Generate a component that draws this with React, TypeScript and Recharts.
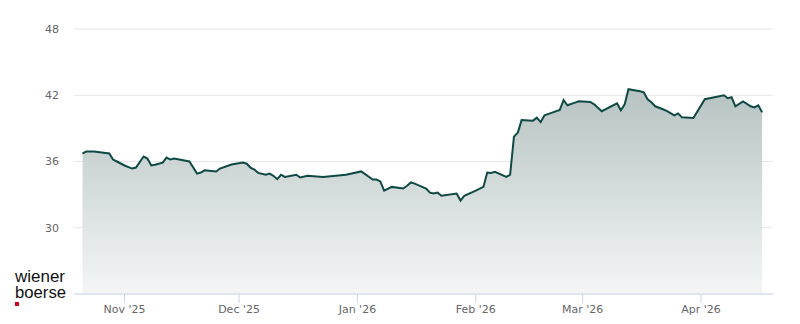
import React from "react";
import { AreaChart, Area, XAxis, YAxis, CartesianGrid } from "recharts";

const dates = [
  "2025-10-21", "2025-10-22", "2025-10-24", "2025-10-28", "2025-10-29", "2025-10-30",
  "2025-11-01", "2025-11-03", "2025-11-04", "2025-11-06", "2025-11-07", "2025-11-08",
  "2025-11-09", "2025-11-11", "2025-11-12", "2025-11-13", "2025-11-14", "2025-11-18",
  "2025-11-20", "2025-11-21", "2025-11-22", "2025-11-25", "2025-11-26", "2025-11-29",
  "2025-12-02", "2025-12-03", "2025-12-04", "2025-12-05", "2025-12-06", "2025-12-08",
  "2025-12-09", "2025-12-10", "2025-12-11", "2025-12-12", "2025-12-13", "2025-12-16",
  "2025-12-17", "2025-12-19", "2025-12-23", "2025-12-29", "2026-01-02", "2026-01-05",
  "2026-01-06", "2026-01-07", "2026-01-08", "2026-01-10", "2026-01-13", "2026-01-14",
  "2026-01-15", "2026-01-16", "2026-01-19", "2026-01-20", "2026-01-21", "2026-01-22",
  "2026-01-23", "2026-01-27", "2026-01-28", "2026-01-29", "2026-02-01", "2026-02-03",
  "2026-02-04", "2026-02-05", "2026-02-06", "2026-02-09", "2026-02-10", "2026-02-11",
  "2026-02-12", "2026-02-13", "2026-02-16", "2026-02-17", "2026-02-18", "2026-02-19",
  "2026-02-21", "2026-02-23", "2026-02-24", "2026-02-25", "2026-02-27", "2026-02-28",
  "2026-03-03", "2026-03-04", "2026-03-06", "2026-03-10", "2026-03-11", "2026-03-12",
  "2026-03-13", "2026-03-16", "2026-03-17", "2026-03-18", "2026-03-19", "2026-03-20",
  "2026-03-22", "2026-03-23", "2026-03-25", "2026-03-26", "2026-03-27", "2026-03-30",
  "2026-04-02", "2026-04-07", "2026-04-08", "2026-04-09", "2026-04-10", "2026-04-12",
  "2026-04-14", "2026-04-15", "2026-04-16", "2026-04-17",
];

const prices = [
  36.73, 36.9, 36.9, 36.73, 36.18, 36.0,
  35.64, 35.36, 35.45, 36.45, 36.27, 35.64,
  35.7, 35.9, 36.36, 36.18, 36.27, 36.0,
  34.9, 35.0, 35.2, 35.1, 35.36, 35.73,
  35.9, 35.8, 35.45, 35.27, 34.97, 34.8,
  34.9, 34.7, 34.4, 34.8, 34.6, 34.8,
  34.55, 34.7, 34.6, 34.8, 35.1, 34.36,
  34.36, 34.2, 33.36, 33.7, 33.55, 33.8,
  34.1, 34.0, 33.55, 33.18, 33.1, 33.18,
  32.9, 33.1, 32.45, 32.9, 33.36, 33.7,
  35.0, 34.97, 35.06, 34.6, 34.8, 38.25,
  38.6, 39.75, 39.7, 39.97, 39.57, 40.18,
  40.43, 40.67, 41.57, 41.09, 41.33, 41.45,
  41.39, 41.18, 40.55, 41.27, 40.64, 41.18,
  42.55, 42.36, 42.27, 41.64, 41.36, 41.0,
  40.73, 40.58, 40.18, 40.36, 40.0, 39.94,
  41.64, 42.0, 41.73, 41.82, 41.0, 41.45,
  41.0, 40.9, 41.09, 40.45,
];

const tickDates = ["2025-11-01", "2025-12-01", "2026-01-01", "2026-02-01", "2026-03-01", "2026-04-01"];
const tickLabels = ["Nov '25", "Dec '25", "Jan '26", "Feb '26", "Mar '26", "Apr '26"];
const yTicks = [30, 36, 42, 48];

const DAY = 86400000;
const toTs = (s: string) => Date.parse(s + "T00:00:00Z");
const data = dates.map((d, i) => ({ t: toTs(d), v: prices[i] }));
const xTicks = tickDates.map(toTs);
const nov1 = toTs("2025-11-01");
const xDomain = [nov1 - 13.23 * DAY, nov1 + 169.85 * DAY];

const fmtX = (t: number) => {
  const i = xTicks.indexOf(t);
  return i >= 0 ? tickLabels[i] : "";
};

export default function App() {
  return (
    <div style={{ position: "absolute", left: 0, top: 0, width: 800, height: 324, background: "#fff" }}>
      <AreaChart width={800} height={324} data={data} margin={{ top: 29, right: 27, left: 0, bottom: 0 }}>
        <defs>
          <linearGradient id="areaGrad" x1="0" y1="0" x2="0" y2="1">
            <stop offset="0%" stopColor="#b6c3c2" />
            <stop offset="100%" stopColor="#f4f6f6" />
          </linearGradient>
        </defs>
        <CartesianGrid vertical={false} stroke="#e6e6e6" />
        <XAxis
          dataKey="t"
          type="number"
          scale="linear"
          domain={xDomain}
          allowDataOverflow
          ticks={xTicks}
          tickFormatter={fmtX}
          height={30}
          stroke="#ccd6eb"
          axisLine={{ stroke: "#ccd6eb" }}
          tickLine={{ stroke: "#ccd6eb" }}
          tickSize={9}
          tickMargin={2}
          tick={{ fill: "#666666", fontSize: 11, fontFamily: "DejaVu Sans" }}
          interval={0}
        />
        <YAxis
          type="number"
          domain={[24, 48]}
          ticks={yTicks}
          width={74}
          axisLine={false}
          tickLine={false}
          tickSize={0}
          tickMargin={15}
          tick={{ fill: "#666666", fontSize: 11, fontFamily: "DejaVu Sans" }}
          interval={0}
        />
        <Area
          type="linear"
          dataKey="v"
          stroke="#0f4943"
          strokeWidth={2}
          fill="url(#areaGrad)"
          fillOpacity={1}
          isAnimationActive={false}
          dot={false}
          activeDot={false}
        />
      </AreaChart>
      <svg width={80} height={50} style={{ position: "absolute", left: 0, top: 260, pointerEvents: "none" }}>
        <text x={15} y={22} fontSize={16} fontFamily="Liberation Sans, Arial, sans-serif" fill="#111" textLength={50} lengthAdjust="spacingAndGlyphs">wiener</text>
        <text x={15} y={38} fontSize={16} fontFamily="Liberation Sans, Arial, sans-serif" fill="#111" textLength={51} lengthAdjust="spacingAndGlyphs">boerse</text>
        <rect x={15} y={42} width={4} height={4} fill="#d0021b" />
      </svg>
    </div>
  );
}
